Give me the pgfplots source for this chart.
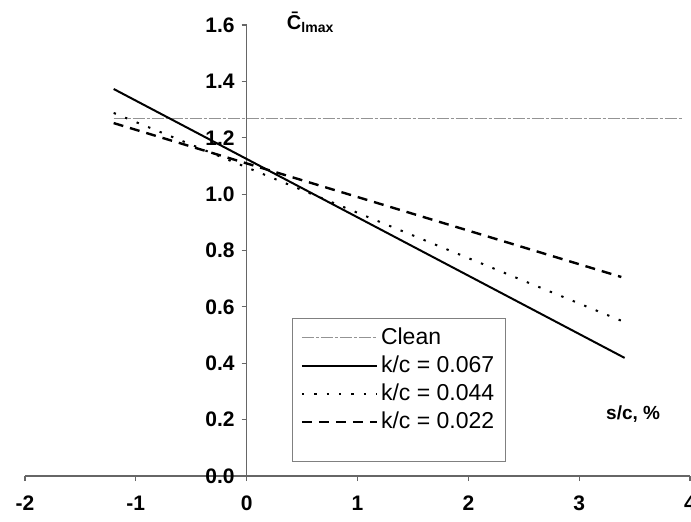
\documentclass[border=0pt]{standalone}
\usepackage{fontspec}
\setmainfont{Liberation Sans}
\usepackage{pgfplots}
\pgfplotsset{compat=1.18}
\begin{document}
\begin{tikzpicture}
\begin{axis}[name=ax, scale only axis, width=332.5pt, height=225.5pt,
  xmin=-2, xmax=4, ymin=0, ymax=1.6,
  axis lines=middle, axis line style={gray!80!black, line width=0.6pt, -},
  xtick={-2,-1,0,1,2,3,4}, xticklabels={-2,-1,0,1,2,3,4},
  ytick={0,0.2,0.4,0.6,0.8,1.0,1.2,1.4,1.6},
  yticklabels={0.0,0.2,0.4,0.6,0.8,1.0,1.2,1.4,1.6},
  hide obscured x ticks=false, hide obscured y ticks=false,
  tick align=outside, major tick length=2.5pt,
  tick style={gray!80!black, line width=0.6pt},
  ticklabel style={font=\fontsize{10.5}{12}\selectfont\bfseries},
  xticklabel style={yshift=-4pt},
  clip=false,
  legend style={at={(0.4015,0.35)}, anchor=north west, draw=gray, line width=0.6pt,
    font=\fontsize{11.5}{13}\selectfont, inner xsep=4pt, inner ysep=3pt,
    nodes={inner sep=1.5pt}, row sep=1.2pt},
  legend cell align=left,
  legend image code/.code={\draw[#1] (0pt,0pt) -- (37.5pt,0pt);},
]
\addplot[gray!85, line width=0.5pt, dash pattern=on 6pt off 1pt on 1.5pt off 1pt] coordinates {(-1.2,1.27) (3.93,1.27)};
\addlegendentry{Clean}
\addplot[black, line width=1pt] coordinates {(-1.2,1.373) (3.41,0.419)};
\addlegendentry{k/c = 0.067}
\addplot[black, line width=1pt, dash pattern=on 1.2pt off 5pt] coordinates {(-1.2,1.288) (3.41,0.546)};
\addlegendentry{k/c = 0.044}
\addplot[black, line width=1.2pt, dash pattern=on 5pt off 3.5pt] coordinates {(-1.2,1.252) (3.38,0.706)};
\addlegendentry{k/c = 0.022}
\addlegendimage{empty legend}
\addlegendentry{\rule{0pt}{4.8pt}}
\node[anchor=base west, font=\fontsize{9.5}{11}\selectfont\bfseries] at (axis cs:3.18,0.2) {s/c, \%};
\node[anchor=base west, font=\fontsize{10}{11}\selectfont\bfseries] at (axis cs:0.3,1.585) {\={C}\raisebox{-1.5pt}{\fontsize{7}{8}\selectfont lmax}};
\end{axis}
\pgfresetboundingbox
\path[use as bounding box] ([shift={(-12.5pt,-22.5pt)}]ax.south west) rectangle ([shift={(0.5pt,12.5pt)}]ax.north east);
\end{tikzpicture}
\end{document}
